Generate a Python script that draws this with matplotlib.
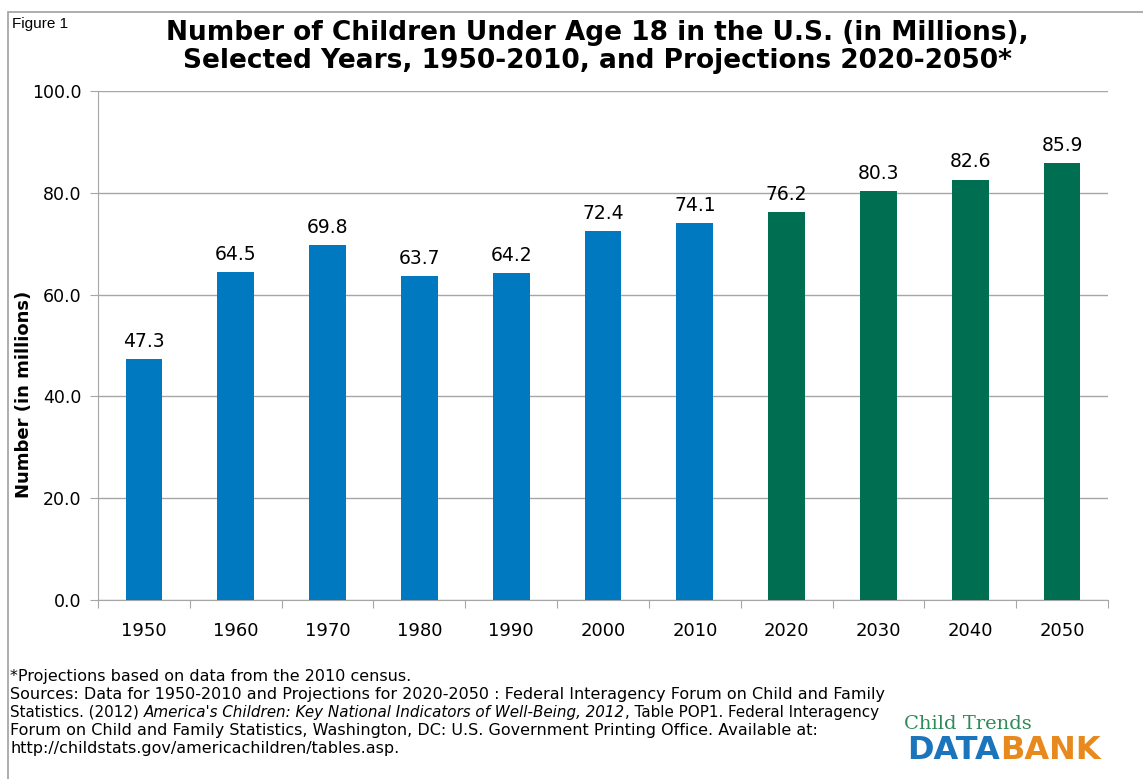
import matplotlib.pyplot as plt
from matplotlib.patches import Rectangle

# Data
years = ['1950', '1960', '1970', '1980', '1990', '2000', '2010',
         '2020', '2030', '2040', '2050']
children = [47.3, 64.5, 69.8, 63.7, 64.2, 72.4, 74.1, 76.2, 80.3, 82.6, 85.9]
projected = [False] * 7 + [True] * 4

blue = '#0079C1'
green = '#006F51'
grid_col = '#A6A6A6'

W, H = 1143, 779
fig = plt.figure(figsize=(W / 100, H / 100), dpi=100)
ax = fig.add_axes([98 / W, 1 - 600 / H, (1108 - 98) / W, (600 - 91) / H])

colors = [green if p else blue for p in projected]
x = range(len(years))
ax.bar(x, children, width=0.4, color=colors, zorder=3)

for xi, v in zip(x, children):
    ax.text(xi, v + 1.6, f'{v:.1f}', ha='center', va='bottom', fontsize=13.5, zorder=4)

ax.set_ylim(0, 100)
ax.set_xlim(-0.5, len(years) - 0.5)
ax.set_yticks(range(0, 101, 20))
ax.set_yticklabels([f'{t:.1f}' for t in range(0, 101, 20)], fontsize=12.5)
ax.yaxis.grid(True, color=grid_col, linewidth=1, zorder=0)

# category labels, ticks on boundaries like Excel
ax.set_xticks([i - 0.5 for i in range(len(years) + 1)])
ax.set_xticklabels([])
ax.set_xticks(list(x), minor=True)
ax.set_xticklabels(years, minor=True, fontsize=13)
ax.tick_params(axis='x', which='minor', length=0, pad=16)
ax.tick_params(axis='x', which='major', length=6, color=grid_col, direction='out')
ax.tick_params(axis='y', length=6, color=grid_col, direction='out', pad=6)

for s in ['top', 'right']:
    ax.spines[s].set_visible(False)
for s in ['left', 'bottom']:
    ax.spines[s].set_color(grid_col)

ax.set_ylabel('Number (in millions)', fontsize=13, fontweight='bold')
ax.yaxis.set_label_coords((33 - 98) / 1010, (600 - 394) / 509)

fig.text(597 / W, 1 - 47 / H, 'Number of Children Under Age 18 in the U.S. (in Millions),\n'
         'Selected Years, 1950-2010, and Projections 2020-2050*',
         ha='center', va='center', fontsize=19, fontweight='bold', linespacing=1.15)
fig.text(12 / W, 1 - 24 / H, 'Figure 1', fontsize=11, family='Liberation Sans', va='center')

# outer frame
fig.patches.append(Rectangle((8 / W, -0.01), 1.2, 1 - 12 / H + 0.01,
                             transform=fig.transFigure, fill=False,
                             edgecolor='#A0A0A0', linewidth=1.2))

# footnotes
renderer = fig.canvas.get_renderer()


def write_line(parts, y, size=11.5):
    xpos = 10
    for txt, style in parts:
        t = fig.text(xpos / W, 1 - y / H, txt, fontsize=size, style=style, va='center')
        xpos += t.get_window_extent(renderer).width


write_line([('*Projections based on data from the 2010 census.', 'normal')], 676)
write_line([('Sources: Data for 1950-2010 and Projections for 2020-2050 : Federal Interagency '
             'Forum on Child and Family', 'normal')], 694)
write_line([('Statistics. (2012) ', 'normal'),
            ("America's Children: Key National Indicators of Well-Being, 2012", 'italic'),
            (', Table POP1. Federal Interagency', 'normal')], 712, size=10.9)
write_line([('Forum on Child and Family Statistics, Washington, DC: U.S. Government '
             'Printing Office. Available at:', 'normal')], 730)
write_line([('http://childstats.gov/americachildren/tables.asp.', 'normal')], 748)

# logo
fig.text(968 / W, 1 - 729 / H, 'Child Trends', family='DejaVu Serif',
         fontsize=14, color='#2E8B57', ha='center', va='baseline')
fig.text(1000 / W, 1 - 759 / H, 'DATA', fontsize=23, fontweight='bold',
         color='#1B75BC', ha='right', va='baseline')
fig.text(1000 / W, 1 - 759 / H, 'BANK', fontsize=23, fontweight='bold',
         color='#E8891D', ha='left', va='baseline')

fig.savefig('out.png', dpi=100)
